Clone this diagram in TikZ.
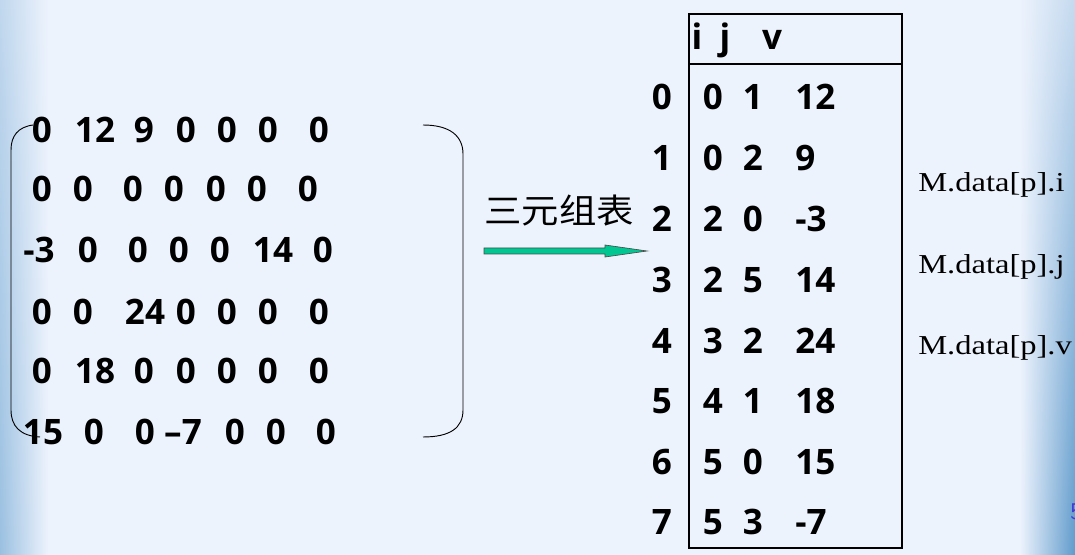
\documentclass[tikz,border=0pt]{standalone}
\usepackage{fontspec}
\usetikzlibrary{calc,fadings}
\setmainfont{Liberation Serif}
\newfontfamily\numfont{Open Sans}
\newfontfamily\cjk{Noto Sans CJK SC}
\definecolor{bg}{RGB}{237,243,253}
\definecolor{edgeL}{RGB}{110,165,210}
\definecolor{edgeR}{RGB}{80,145,198}
\definecolor{arrowfill}{RGB}{0,198,146}
\definecolor{pagenum}{RGB}{60,60,215}
\tikzfading[name=vfadeL, top color=transparent!65, middle color=transparent!0, bottom color=transparent!35]
\tikzfading[name=vfadeR, top color=transparent!75, middle color=transparent!0, bottom color=transparent!10]
\begin{document}
\begin{tikzpicture}[x=0.75pt,y=-0.75pt,
  num/.style={inner sep=0pt,anchor=base,font=\numfont\bfseries\fontsize{26.3}{30}\selectfont},
  numw/.style={num,anchor=base west},
  lbl/.style={inner sep=0pt,anchor=base west,font=\fontsize{20.5}{24}\selectfont},
  frame/.style={draw=black,line width=0.8pt}]
\useasboundingbox (0,0) rectangle (1075,555);
% background
\fill[bg] (0,0) rectangle (1075,555);
\shade[left color=edgeL,right color=bg,path fading=vfadeL] (0,0) rectangle (48,555);
\shade[left color=bg,right color=edgeR,path fading=vfadeR] (1020,0) rectangle (1075,555);
% matrix entries
\foreach \xx/\t [count=\c] in {42/0,95/12,144/9,186/0,227/0,268/0,319/0}
  \node[num] (m-1-\c) at (\xx,143) {\t};
\foreach \xx/\t [count=\c] in {42/0,83/0,133/0,174/0,216/0,257/0,308/0}
  \node[num] (m-2-\c) at (\xx,202) {\t};
\foreach \xx/\t [count=\c] in {39/-3,88/0,138/0,179/0,220/0,273/14,323/0}
  \node[num] (m-3-\c) at (\xx,263) {\t};
\foreach \xx/\t [count=\c] in {42/0,83/0,145/24,186/0,227/0,268/0,319/0}
  \node[num] (m-4-\c) at (\xx,325) {\t};
\foreach \xx/\t [count=\c] in {42/0,95/18,144/0,186/0,227/0,268/0,319/0}
  \node[num] (m-5-\c) at (\xx,384) {\t};
\foreach \xx/\t [count=\c] in {43/15,94/0,145/0,183/{\textendash 7},235/0,276/0,326/0}
  \node[num] (m-6-\c) at (\xx,445) {\t};
% brackets
\draw[line width=0.7pt] (33,125) .. controls (18,127) and (11,136) .. (11,150)
  -- (11,410) .. controls (11,426) and (20,436) .. (40,437);
\draw[line width=0.7pt] (423,125) .. controls (450,125) and (463,136) .. (463,154)
  -- (463,410) .. controls (463,428) and (450,437) .. (423,437);
% label and arrow
\node[inner sep=0pt,font=\cjk\fontsize{25.5}{28}\selectfont] (title) at (559,211) {\scalebox{1.1}[1]{三元组表}};
\coordinate (ashaft) at (484,251);
\coordinate (atip) at (647,251);
\draw[fill=arrowfill,draw=black!70,line width=0.5pt]
  ($(ashaft)+(0,-3)$) -- (605,248) -- (605,245) -- (atip) -- (605,257) -- (605,254) -- ($(ashaft)+(0,3)$) -- cycle;
% table
\draw[frame] (689,14) rectangle (902,548);
\draw[frame] (689,64) -- (902,64);
\node[num] (hi) at (697,50) {i};
\node[num] (hj) at (725,50) {j};
\node[num] (hv) at (772,50) {v};
\foreach \k/\a/\b/\v/\yy in {0/0/1/12/110,1/0/2/9/170.5,2/2/0/-3/231.5,3/2/5/14/292.5,4/3/2/24/353.5,5/4/1/18/413.5,6/5/0/15/474.5,7/5/3/-7/534.5}{
  \node[num] (k\k) at (662,\yy) {\k};
  \node[num] (ti\k) at (713,\yy) {\a};
  \node[num] (tj\k) at (753,\yy) {\b};
  \node[numw] (tv\k) at (795,\yy) {\v};
}
% field labels
\node[lbl] (li) at (918,192) {\scalebox{1.19}[1]{M.data[p].i}};
\node[lbl] (lj) at (918,274) {\scalebox{1.19}[1]{M.data[p].j}};
\node[lbl] (lv) at (918,355) {\scalebox{1.19}[1]{M.data[p].v}};
% page number (clipped at the edge, as in the reference)
\node[inner sep=0pt,anchor=base west,text=pagenum,font=\fontsize{18}{20}\selectfont\sffamily] (pg) at (1070,520) {5};
\end{tikzpicture}
\end{document}
